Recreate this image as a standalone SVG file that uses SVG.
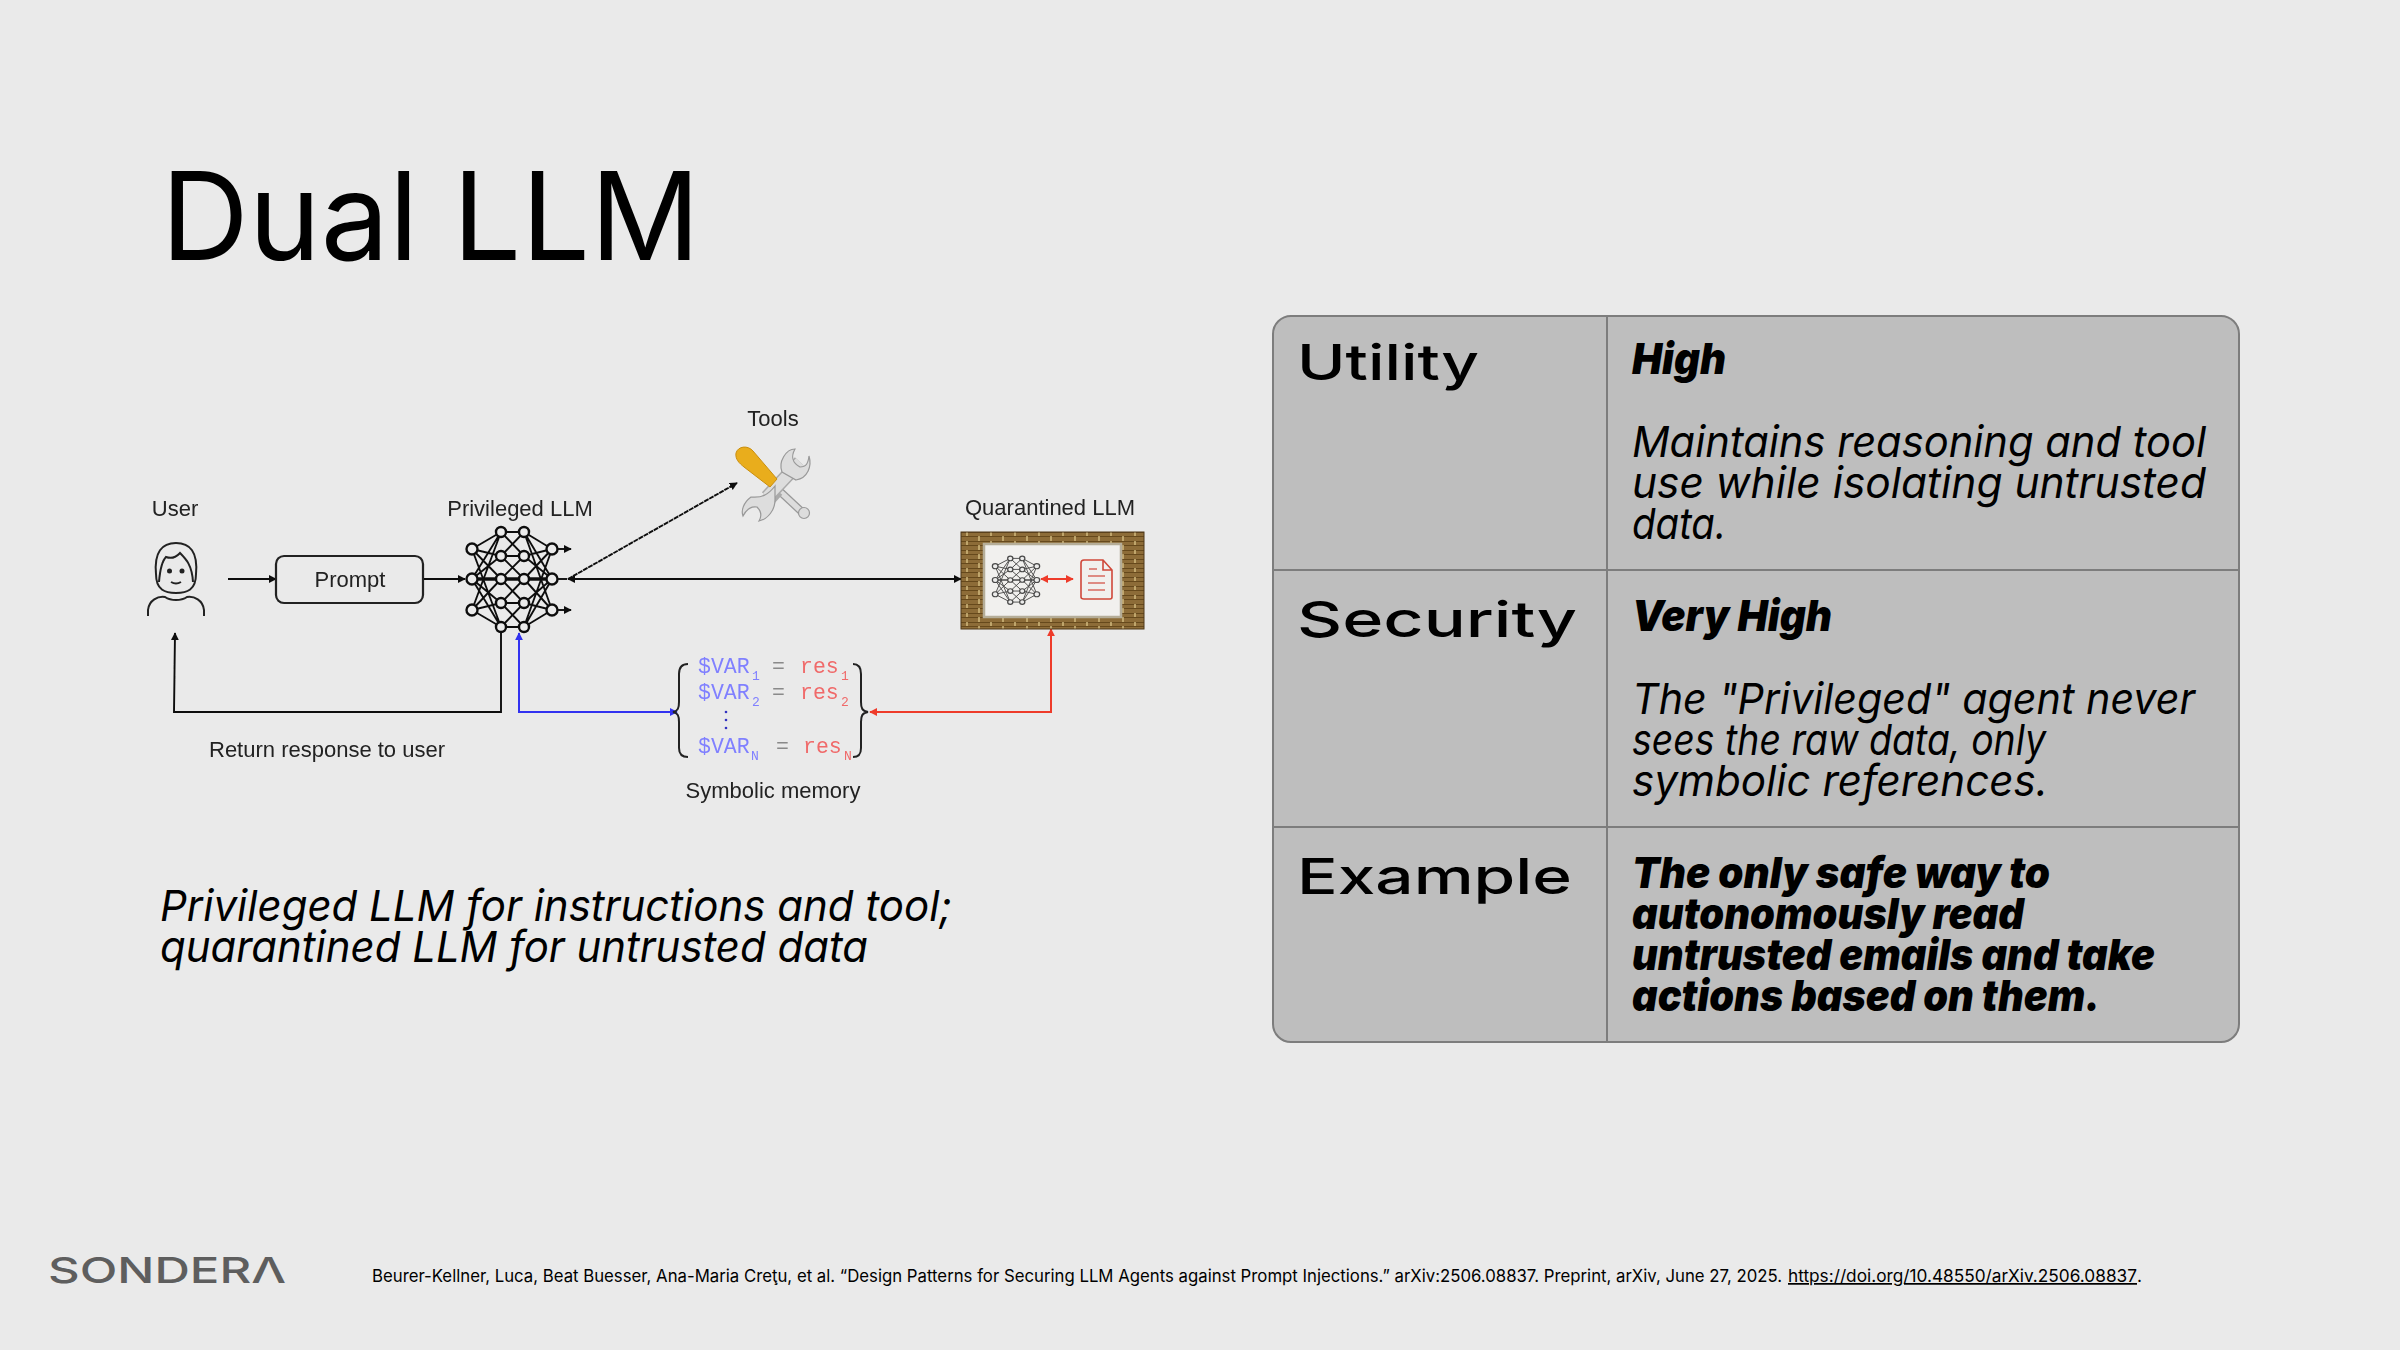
<svg xmlns="http://www.w3.org/2000/svg" width="2400" height="1350" viewBox="0 0 2400 1350">
<style>
text{font-family:"Inter","Liberation Sans",sans-serif;fill:#000}
.t{font-family:"Liberation Sans",Arial,sans-serif;font-size:22px;fill:#222}
.c{text-anchor:middle}
.h{font-size:50px;font-weight:500}
.b{font-size:43px;font-style:italic;font-weight:400}
.s{font-size:43px;font-style:italic;font-weight:900}
.m{font-family:"Liberation Mono",monospace;font-size:21.5px}
.bl{fill:#8080ff}.rd{fill:#f06a6a}.gy{fill:#8a8a8a}
.sub{font-size:13px}
.k{fill:none;stroke:#222;stroke-width:2}
.soft{filter:url(#soft)}
.n{fill:#ebebeb;stroke:#111;stroke-width:2.4}
.e{fill:none;stroke:#111;stroke-width:1.9}
</style>
<defs>
<filter id="soft" x="-10%" y="-10%" width="120%" height="120%"><feGaussianBlur stdDeviation="0.65"/></filter>
<marker id="ak" viewBox="0 0 10 10" refX="9" refY="5" markerWidth="8" markerHeight="8" markerUnits="userSpaceOnUse" orient="auto-start-reverse"><path d="M0 0L10 5L0 10z" fill="#111"/></marker>
<marker id="ab" viewBox="0 0 10 10" refX="9" refY="5" markerWidth="8" markerHeight="8" markerUnits="userSpaceOnUse" orient="auto-start-reverse"><path d="M0 0L10 5L0 10z" fill="#3030f0"/></marker>
<marker id="ar" viewBox="0 0 10 10" refX="9" refY="5" markerWidth="8" markerHeight="8" markerUnits="userSpaceOnUse" orient="auto-start-reverse"><path d="M0 0L10 5L0 10z" fill="#ee3b2b"/></marker>
<pattern id="brick" width="24" height="9" patternUnits="userSpaceOnUse" x="961" y="532">
<rect width="24" height="9" fill="#8d6c38"/>
<path d="M0 .5H24M0 4.5H24" stroke="#66491f" stroke-width="1"/>
<path d="M6 0V4M18 4V9" stroke="#d6bf82" stroke-width="1.4"/>
</pattern>
<g id="net">
<path class="e" d="M472 549L501 532M472 549L501 556M472 549L501 579M472 549L501 627M472 579L501 532M472 579L501 556M472 579L501 603M472 579L501 627M472 610L501 532M472 610L501 579M472 610L501 603M472 610L501 627M501 532L524 532M501 556L524 556M501 603L524 603M501 627L524 627M501 532L524 556M501 556L524 532M501 556L524 579M501 579L524 556M501 579L524 603M501 603L524 579M501 603L524 627M501 627L524 603M524 532L552 549M524 556L552 549M524 579L552 549M524 627L552 549M524 532L552 579M524 556L552 579M524 603L552 579M524 627L552 579M524 532L552 610M524 579L552 610M524 603L552 610M524 627L552 610"/>
<path d="M472 579H552" fill="none" stroke="#111" stroke-width="3.400"/>
<g class="n">
<circle cx="472" cy="549" r="5.5"/><circle cx="472" cy="579" r="5.5"/><circle cx="472" cy="610" r="5.5"/>
<circle cx="501" cy="532" r="5"/><circle cx="501" cy="556" r="5"/><circle cx="501" cy="579" r="5"/><circle cx="501" cy="603" r="5"/><circle cx="501" cy="627" r="5"/>
<circle cx="524" cy="532" r="5"/><circle cx="524" cy="556" r="5"/><circle cx="524" cy="579" r="5"/><circle cx="524" cy="603" r="5"/><circle cx="524" cy="627" r="5"/>
<circle cx="552" cy="549" r="5.5"/><circle cx="552" cy="579" r="5.5"/><circle cx="552" cy="610" r="5.5"/>
</g>
</g>
</defs>
<rect width="2400" height="1350" fill="#eaeaea"/>
<text id="title" x="161" y="260" font-size="122" textLength="539" lengthAdjust="spacingAndGlyphs">Dual LLM</text>

<g id="connectors" class="soft">
<path class="e" d="M228 579H276" marker-end="url(#ak)"/>
<path class="e" d="M423 579H465" marker-end="url(#ak)"/>
<path class="e" d="M558 549H571" marker-end="url(#ak)"/>
<path class="e" d="M558 610H571" marker-end="url(#ak)"/>
<path class="e" d="M558 579H567" />
<path class="e" d="M568 579H961" marker-start="url(#ak)" marker-end="url(#ak)"/>
<path class="e" d="M568 579L737 483" marker-end="url(#ak)" stroke-dasharray="5 .8"/>
<path class="e" d="M501 633V712H174L175 633" marker-end="url(#ak)"/>
<path d="M677 712H519V633" fill="none" stroke="#3030f0" stroke-width="2" marker-start="url(#ab)" marker-end="url(#ab)"/>
<path d="M870 712H1051V629" fill="none" stroke="#ee3b2b" stroke-width="2" marker-start="url(#ar)" marker-end="url(#ar)"/>
</g>

<g id="user" class="soft">
<text class="t c" x="175" y="516">User</text>
<path class="k" d="M156 574C154 552 162 543 176 543C190 543 198 552 196 574C196 590 187 593 176 593C165 593 156 590 156 574z"/>
<path class="k" d="M159 582C160 570 162 561 166 557C174 560 178 555 180 553C186 559 192 565 193 582"/>
<path class="k" d="M148 616V610C149 600 158 596 165 597C171 601 181 601 187 597C194 596 203 600 204 610V616"/>
<circle cx="169.500" cy="571" r="2.500" fill="#222"/><circle cx="182" cy="571" r="2.500" fill="#222"/>
<path class="k" d="M171 582Q176 585 181 582"/>
</g>

<g id="prompt" class="soft">
<rect x="276" y="556" width="147" height="47" rx="8" fill="none" stroke="#222" stroke-width="2.200"/>
<text class="t c" x="350" y="587">Prompt</text>
</g>

<g id="privileged" class="soft">
<text class="t c" x="520" y="516">Privileged LLM</text>
<use href="#net"/>
</g>

<g id="tools" class="soft">
<text class="t c" x="773" y="426">Tools</text>
<path d="M772 484L802 512" stroke="#999" stroke-width="8" fill="none"/>
<path d="M772 484L802 512" stroke="#ddd" stroke-width="5.500" fill="none"/>
<circle cx="804" cy="513" r="5.500" fill="#ddd" stroke="#999" stroke-width="1.200"/>
<path d="M800 462L767 497M777 490L761 508" stroke="#aaa" stroke-width="14" fill="none"/>
<path d="M800 462L767 497" stroke="#ddd" stroke-width="11" fill="none"/>
<path d="M782 472C778 462 786 449 795 449C790 458 793 463 800 467C806 467 808 464 809 456C812 466 808 478 796 480z" fill="#ddd" stroke="#999" stroke-width="1.200"/>
<path d="M775 486C768 495 762 498 751 497C743 503 741 511 743 516C746 510 751 506 757 507C761 511 762 516 759 521C768 519 775 510 775 500z" fill="#ddd" stroke="#999" stroke-width="1.200"/>
<path d="M736 453C738 446 748 445 753 451L777 479L770 487L744 467C739 463 735 459 736 453z" fill="#e9ad1e" stroke="#c98e10" stroke-width="1"/>
</g>

<g id="quarantined" class="soft">
<text class="t c" x="1050" y="515">Quarantined LLM</text>
<rect x="961" y="532" width="183" height="97" fill="url(#brick)" stroke="#4e3a1c" stroke-width="1"/>
<rect x="984" y="544" width="137" height="73" fill="#f1f0ee" stroke="#b5ad98" stroke-width="2.500"/>
<use href="#net" transform="translate(1016 580) scale(.52 .46) translate(-512 -579)" opacity=".75"/>
<path d="M1041 579H1073" stroke="#ee3b2b" stroke-width="2" marker-start="url(#ar)" marker-end="url(#ar)"/>
<path d="M1084 560H1103L1112 570V597Q1112 599 1110 599H1084Q1081 599 1081 597V563Q1081 560 1084 560zM1103 560V570H1112" fill="none" stroke="#d0483a" stroke-width="1.600"/>
<path d="M1089 569H1097M1088 576H1105M1088 583H1105M1088 590H1105" stroke="#d86a60" stroke-width="1.700"/>
</g>

<g id="symbolic-memory" class="soft">
<path class="k" d="M688 664C682 664 679 668 679 674V702C679 708 678 711 673 712C678 713 679 716 679 722V748C679 754 682 757 688 757"/>
<path class="k" d="M853 664C859 664 861 668 861 674V702C861 708 862 711 868 712C862 713 861 716 861 722V748C861 754 859 757 853 757"/>
<text class="m bl" x="698" y="673">$VAR</text><text class="m sub bl" x="752" y="680">1</text>
<text class="m gy" x="772" y="673">=</text>
<text class="m rd" x="800" y="673">res</text><text class="m sub rd" x="841" y="680">1</text>
<text class="m bl" x="698" y="699">$VAR</text><text class="m sub bl" x="752" y="706">2</text>
<text class="m gy" x="772" y="699">=</text>
<text class="m rd" x="800" y="699">res</text><text class="m sub rd" x="841" y="706">2</text>
<circle cx="726" cy="712" r="1.300" fill="#3030c0"/><circle cx="726" cy="720" r="1.300" fill="#3030c0"/><circle cx="726" cy="728" r="1.300" fill="#3030c0"/>
<text class="m bl" x="698" y="753">$VAR</text><text class="m sub bl" x="751" y="760">N</text>
<text class="m gy" x="776" y="753">=</text>
<text class="m rd" x="803" y="753">res</text><text class="m sub rd" x="844" y="760">N</text>
<text class="t c" x="773" y="798">Symbolic memory</text>
</g>
<text id="return-label" class="t soft" x="209" y="757">Return response to user</text>

<text class="b" x="160" y="921" textLength="792" lengthAdjust="spacingAndGlyphs">Privileged LLM for instructions and tool;</text>
<text class="b" x="160" y="962" textLength="708" lengthAdjust="spacingAndGlyphs">quarantined LLM for untrusted data</text>

<g id="table">
<rect x="1273" y="316" width="966" height="726" rx="18" fill="#bebebe" stroke="#7d7d7d" stroke-width="2"/>
<path d="M1607 316V1042M1273 570H2239M1273 827H2239" stroke="#7d7d7d" stroke-width="2" fill="none"/>
</g>
<g id="utility">
<text class="h" x="1297" y="380" textLength="182" lengthAdjust="spacingAndGlyphs">Utility</text>
<text class="s" x="1632" y="374" textLength="94" lengthAdjust="spacingAndGlyphs">High</text>
<text class="b" x="1632" y="457" textLength="574" lengthAdjust="spacingAndGlyphs">Maintains reasoning and tool</text>
<text class="b" x="1632" y="498" textLength="574" lengthAdjust="spacingAndGlyphs">use while isolating untrusted</text>
<text class="b" x="1632" y="539" textLength="94" lengthAdjust="spacingAndGlyphs">data.</text>
</g>
<g id="security">
<text class="h" x="1297" y="637" textLength="280" lengthAdjust="spacingAndGlyphs">Security</text>
<text class="s" x="1632" y="631" textLength="200" lengthAdjust="spacingAndGlyphs">Very High</text>
<text class="b" x="1632" y="714" textLength="563" lengthAdjust="spacingAndGlyphs">The "Privileged" agent never</text>
<text class="b" x="1632" y="755" textLength="414" lengthAdjust="spacingAndGlyphs">sees the raw data, only</text>
<text class="b" x="1632" y="796" textLength="416" lengthAdjust="spacingAndGlyphs">symbolic references.</text>
</g>
<g id="example">
<text class="h" x="1297" y="894" textLength="275" lengthAdjust="spacingAndGlyphs">Example</text>
<text class="s" x="1632" y="888" textLength="418" lengthAdjust="spacingAndGlyphs">The only safe way to</text>
<text class="s" x="1632" y="929" textLength="392" lengthAdjust="spacingAndGlyphs">autonomously read</text>
<text class="s" x="1632" y="970" textLength="523" lengthAdjust="spacingAndGlyphs">untrusted emails and take</text>
<text class="s" x="1632" y="1011" textLength="468" lengthAdjust="spacingAndGlyphs">actions based on them.</text>
</g>
<text id="logo" x="48" y="1283" font-size="36" font-weight="500" style="fill:#5e5e5e" textLength="238" lengthAdjust="spacingAndGlyphs">SONDERΛ</text>
<g id="citation">
<text x="372" y="1282" font-size="17.300" textLength="1410" lengthAdjust="spacingAndGlyphs">Beurer-Kellner, Luca, Beat Buesser, Ana-Maria Creţu, et al. “Design Patterns for Securing LLM Agents against Prompt Injections.” arXiv:2506.08837. Preprint, arXiv, June 27, 2025.</text>
<text x="1788" y="1282" font-size="17.300" textLength="349" lengthAdjust="spacingAndGlyphs" text-decoration="underline">https://doi.org/10.48550/arXiv.2506.08837</text>
<text x="2137" y="1282" font-size="17.300">.</text>
</g>
</svg>
